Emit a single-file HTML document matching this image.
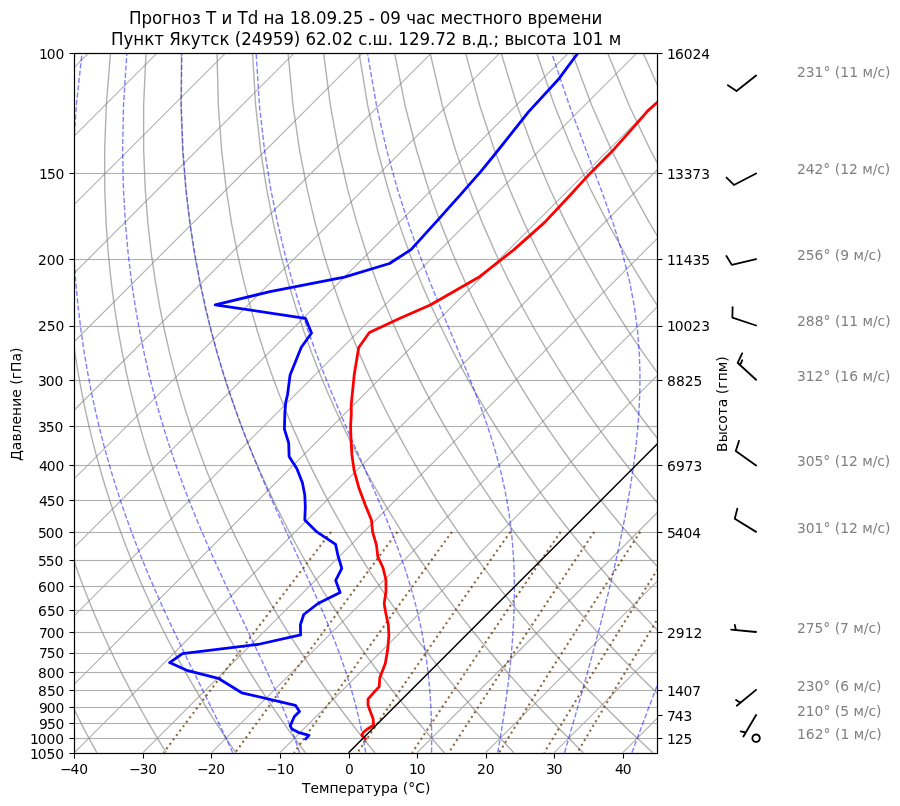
<!DOCTYPE html>
<html lang="ru"><head><meta charset="utf-8"><title>Прогноз T и Td — Якутск</title>
<style>
html,body{margin:0;padding:0;background:#fff}
body{width:900px;height:806px;overflow:hidden}
svg{display:block;font-family:"DejaVu Sans","Liberation Sans",sans-serif}
text{font-size:13.889px;fill:#000;white-space:pre}
.t{font-size:16.667px}
.g{fill:#808080}
</style></head><body>
<svg width="900" height="806" viewBox="0 0 900 806" role="img" aria-label="Аэрологическая диаграмма: прогноз T и Td, Якутск">
<rect width="900" height="806" fill="#fff"/>
<defs><clipPath id="c"><rect x="74.5" y="53.5" width="583.0" height="700.0"/></clipPath></defs>
<g clip-path="url(#c)" fill="none">
<path d="M-679.62 752.73L20.38 52.73M-611.07 752.73L88.93 52.73M-542.52 752.73L157.48 52.73M-473.98 752.73L226.02 52.73M-405.43 752.73L294.57 52.73M-336.88 752.73L363.12 52.73M-268.34 752.73L431.66 52.73M-199.79 752.73L500.21 52.73M-131.24 752.73L568.76 52.73M-62.69 752.73L637.31 52.73M5.85 752.73L705.85 52.73M74.40 752.73L774.40 52.73M142.95 752.73L842.95 52.73M211.49 752.73L911.49 52.73M280.04 752.73L980.04 52.73M348.59 752.73L1048.59 52.73M417.14 752.73L1117.14 52.73M485.68 752.73L1185.68 52.73M554.23 752.73L1254.23 52.73M622.78 752.73L1322.78 52.73" stroke="#b0b0b0" stroke-width="1.11"/>
<path d="M74.40 53.5H657.05M74.40 173.5H657.05M74.40 259.5H657.05M74.40 326.5H657.05M74.40 380.5H657.05M74.40 426.5H657.05M74.40 465.5H657.05M74.40 500.5H657.05M74.40 532.5H657.05M74.40 560.5H657.05M74.40 586.5H657.05M74.40 610.5H657.05M74.40 632.5H657.05M74.40 653.5H657.05M74.40 672.5H657.05M74.40 690.5H657.05M74.40 707.5H657.05M74.40 723.5H657.05M74.40 738.5H657.05M74.40 753.5H657.05" stroke="#b0b0b0" stroke-opacity="0.06" stroke-width="3"/>
<path d="M74.40 53.5H657.05M74.40 173.5H657.05M74.40 259.5H657.05M74.40 326.5H657.05M74.40 380.5H657.05M74.40 426.5H657.05M74.40 465.5H657.05M74.40 500.5H657.05M74.40 532.5H657.05M74.40 560.5H657.05M74.40 586.5H657.05M74.40 610.5H657.05M74.40 632.5H657.05M74.40 653.5H657.05M74.40 672.5H657.05M74.40 690.5H657.05M74.40 707.5H657.05M74.40 723.5H657.05M74.40 738.5H657.05M74.40 753.5H657.05" stroke="#b0b0b0" stroke-width="1.11"/>
<path d="M96.83 752.73L93.78 747.18L90.71 741.53L87.63 735.77L84.54 729.89L81.43 723.89L78.32 717.77L75.20 711.53L72.07 705.15L68.93 698.63L65.79 691.96L62.63 685.14L59.47 678.16L56.31 671.02L53.14 663.69L49.96 656.19L46.79 648.48L43.61 640.58L40.43 632.46L37.26 624.11L34.09 615.52L30.92 606.67L27.77 597.56L24.63 588.15L21.50 578.44L18.39 568.40L15.31 558.01L12.26 547.25L9.24 536.08L6.26 524.48L3.34 512.40L0.48 499.82L-2.32 486.67L-5.02 472.93L-7.63 458.51L-10.12 443.37L-12.47 427.41L-14.64 410.54L-16.62 392.67L-18.35 373.65L-19.78 353.33L-20.85 331.52L-21.47 307.99L-21.54 282.44L-20.91 254.49L-19.36 223.63L-16.64 189.21L-12.31 150.28L-5.77 105.48L4.00 52.73M166.34 752.73L162.92 747.18L159.47 741.53L156.01 735.77L152.54 729.89L149.05 723.89L145.54 717.77L142.02 711.53L138.48 705.15L134.93 698.63L131.36 691.96L127.78 685.14L124.18 678.16L120.57 671.02L116.95 663.69L113.32 656.19L109.68 648.48L106.03 640.58L102.36 632.46L98.69 624.11L95.02 615.52L91.34 606.67L87.66 597.56L83.98 588.15L80.30 578.44L76.63 568.40L72.97 558.01L69.33 547.25L65.70 536.08L62.10 524.48L58.53 512.40L55.01 499.82L51.53 486.67L48.12 472.93L44.78 458.51L41.53 443.37L38.40 427.41L35.41 410.54L32.58 392.67L29.96 373.65L27.60 353.33L25.55 331.52L23.89 307.99L22.72 282.44L22.18 254.49L22.47 223.63L23.84 189.21L26.68 150.28L31.58 105.48L39.50 52.73M235.85 752.73L232.06 747.18L228.24 741.53L224.40 735.77L220.54 729.89L216.66 723.89L212.76 717.77L208.83 711.53L204.89 705.15L200.92 698.63L196.93 691.96L192.92 685.14L188.89 678.16L184.84 671.02L180.77 663.69L176.68 656.19L172.57 648.48L168.44 640.58L164.29 632.46L160.13 624.11L155.95 615.52L151.76 606.67L147.55 597.56L143.33 588.15L139.10 578.44L134.87 568.40L130.63 558.01L126.39 547.25L122.16 536.08L117.93 524.48L113.72 512.40L109.53 499.82L105.37 486.67L101.26 472.93L97.19 458.51L93.19 443.37L89.27 427.41L85.46 410.54L81.78 392.67L78.27 373.65L74.98 353.33L71.94 331.52L69.25 307.99L66.98 282.44L65.27 254.49L64.30 223.63L64.31 189.21L65.66 150.28L68.93 105.48L75.00 52.73M305.36 752.73L301.20 747.18L297.00 741.53L292.79 735.77L288.54 729.89L284.27 723.89L279.97 717.77L275.65 711.53L271.29 705.15L266.91 698.63L262.50 691.96L258.07 685.14L253.60 678.16L249.11 671.02L244.59 663.69L240.04 656.19L235.46 648.48L230.86 640.58L226.23 632.46L221.57 624.11L216.88 615.52L212.18 606.67L207.44 597.56L202.69 588.15L197.91 578.44L193.11 568.40L188.29 558.01L183.46 547.25L178.62 536.08L173.77 524.48L168.91 512.40L164.06 499.82L159.22 486.67L154.39 472.93L149.60 458.51L144.84 443.37L140.14 427.41L135.51 410.54L130.98 392.67L126.58 373.65L122.35 353.33L118.34 331.52L114.61 307.99L111.24 282.44L108.36 254.49L106.13 223.63L104.78 189.21L104.65 150.28L106.27 105.48L110.51 52.73M374.87 752.73L370.34 747.18L365.77 741.53L361.17 735.77L356.54 729.89L351.88 723.89L347.19 717.77L342.46 711.53L337.70 705.15L332.90 698.63L328.07 691.96L323.21 685.14L318.31 678.16L313.37 671.02L308.40 663.69L303.40 656.19L298.35 648.48L293.27 640.58L288.16 632.46L283.01 624.11L277.82 615.52L272.59 606.67L267.33 597.56L262.04 588.15L256.71 578.44L251.35 568.40L245.95 558.01L240.53 547.25L235.08 536.08L229.60 524.48L224.11 512.40L218.59 499.82L213.07 486.67L207.53 472.93L202.01 458.51L196.49 443.37L191.01 427.41L185.56 410.54L180.18 392.67L174.89 373.65L169.73 353.33L164.73 331.52L159.97 307.99L155.50 282.44L151.45 254.49L147.96 223.63L145.25 189.21L143.64 150.28L143.62 105.48L146.01 52.73M444.38 752.73L439.48 747.18L434.54 741.53L429.56 735.77L424.55 729.89L419.49 723.89L414.40 717.77L409.27 711.53L404.10 705.15L398.90 698.63L393.64 691.96L388.35 685.14L383.02 678.16L377.64 671.02L372.22 663.69L366.75 656.19L361.24 648.48L355.69 640.58L350.09 632.46L344.44 624.11L338.75 615.52L333.01 606.67L327.22 597.56L321.39 588.15L315.51 578.44L309.59 568.40L303.61 558.01L297.60 547.25L291.54 536.08L285.44 524.48L279.30 512.40L273.12 499.82L266.91 486.67L260.67 472.93L254.42 458.51L248.15 443.37L241.87 427.41L235.61 410.54L229.38 392.67L223.20 373.65L217.11 353.33L211.13 331.52L205.32 307.99L199.76 282.44L194.54 254.49L189.80 223.63L185.73 189.21L182.63 150.28L180.97 105.48L181.51 52.73M513.89 752.73L508.62 747.18L503.30 741.53L497.95 735.77L492.55 729.89L487.11 723.89L481.62 717.77L476.09 711.53L470.51 705.15L464.89 698.63L459.22 691.96L453.50 685.14L447.73 678.16L441.91 671.02L436.04 663.69L430.11 656.19L424.14 648.48L418.11 640.58L412.02 632.46L405.88 624.11L399.68 615.52L393.43 606.67L387.12 597.56L380.74 588.15L374.31 578.44L367.83 568.40L361.28 558.01L354.67 547.25L348.00 536.08L341.27 524.48L334.49 512.40L327.65 499.82L320.76 486.67L313.81 472.93L306.83 458.51L299.80 443.37L292.74 427.41L285.67 410.54L278.58 392.67L271.51 373.65L264.48 353.33L257.53 331.52L250.68 307.99L244.02 282.44L237.63 254.49L231.63 223.63L226.20 189.21L221.62 150.28L218.32 105.48L217.02 52.73M583.40 752.73L577.76 747.18L572.07 741.53L566.33 735.77L560.55 729.89L554.72 723.89L548.84 717.77L542.90 711.53L536.92 705.15L530.88 698.63L524.79 691.96L518.64 685.14L512.43 678.16L506.17 671.02L499.85 663.69L493.47 656.19L487.03 648.48L480.52 640.58L473.95 632.46L467.32 624.11L460.62 615.52L453.85 606.67L447.01 597.56L440.10 588.15L433.12 578.44L426.06 568.40L418.94 558.01L411.74 547.25L404.46 536.08L397.11 524.48L389.68 512.40L382.18 499.82L374.60 486.67L366.95 472.93L359.24 458.51L351.45 443.37L343.61 427.41L335.72 410.54L327.78 392.67L319.82 373.65L311.86 353.33L303.92 331.52L296.04 307.99L288.28 282.44L280.72 254.49L273.46 223.63L266.67 189.21L260.61 150.28L255.66 105.48L252.52 52.73M652.91 752.73L646.90 747.18L640.83 741.53L634.72 735.77L628.55 729.89L622.33 723.89L616.05 717.77L609.72 711.53L603.32 705.15L596.87 698.63L590.36 691.96L583.78 685.14L577.14 678.16L570.44 671.02L563.67 663.69L556.83 656.19L549.92 648.48L542.94 640.58L535.88 632.46L528.75 624.11L521.55 615.52L514.26 606.67L506.90 597.56L499.45 588.15L491.92 578.44L484.30 568.40L476.60 558.01L468.80 547.25L460.92 536.08L452.94 524.48L444.87 512.40L436.71 499.82L428.45 486.67L420.09 472.93L411.64 458.51L403.11 443.37L394.48 427.41L385.77 410.54L376.98 392.67L368.13 373.65L359.24 353.33L350.32 331.52L341.40 307.99L332.55 282.44L323.81 254.49L315.29 223.63L307.15 189.21L299.59 150.28L293.01 105.48L288.03 52.73M722.42 752.73L716.04 747.18L709.60 741.53L703.11 735.77L696.55 729.89L689.94 723.89L683.27 717.77L676.53 711.53L669.73 705.15L662.86 698.63L655.93 691.96L648.93 685.14L641.85 678.16L634.71 671.02L627.48 663.69L620.19 656.19L612.81 648.48L605.35 640.58L597.82 632.46L590.19 624.11L582.48 615.52L574.68 606.67L566.79 597.56L558.80 588.15L550.72 578.44L542.54 568.40L534.26 558.01L525.87 547.25L517.38 536.08L508.78 524.48L500.06 512.40L491.23 499.82L482.29 486.67L473.23 472.93L464.05 458.51L454.76 443.37L445.35 427.41L435.82 410.54L426.18 392.67L416.44 373.65L406.61 353.33L396.71 331.52L386.76 307.99L376.81 282.44L366.90 254.49L357.12 223.63L347.62 189.21L338.58 150.28L330.36 105.48L323.53 52.73M791.93 752.73L785.18 747.18L778.37 741.53L771.49 735.77L764.56 729.89L757.55 723.89L750.48 717.77L743.35 711.53L736.14 705.15L728.86 698.63L721.50 691.96L714.07 685.14L706.56 678.16L698.97 671.02L691.30 663.69L683.54 656.19L675.70 648.48L667.77 640.58L659.75 632.46L651.63 624.11L643.41 615.52L635.10 606.67L626.68 597.56L618.16 588.15L609.53 578.44L600.78 568.40L591.92 558.01L582.94 547.25L573.84 536.08L564.61 524.48L555.25 512.40L545.76 499.82L536.14 486.67L526.37 472.93L516.46 458.51L506.41 443.37L496.21 427.41L485.87 410.54L475.38 392.67L464.75 373.65L453.99 353.33L443.11 331.52L432.12 307.99L421.07 282.44L409.99 254.49L398.96 223.63L388.09 189.21L377.57 150.28L367.71 105.48L359.03 52.73M861.44 752.73L854.32 747.18L847.13 741.53L839.88 735.77L832.56 729.89L825.17 723.89L817.70 717.77L810.16 711.53L802.54 705.15L794.85 698.63L787.07 691.96L779.21 685.14L771.27 678.16L763.24 671.02L755.12 663.69L746.90 656.19L738.59 648.48L730.19 640.58L721.68 632.46L713.07 624.11L704.35 615.52L695.52 606.67L686.57 597.56L677.51 588.15L668.33 578.44L659.02 568.40L649.58 558.01L640.01 547.25L630.30 536.08L620.45 524.48L610.44 512.40L600.29 499.82L589.98 486.67L579.51 472.93L568.87 458.51L558.06 443.37L547.08 427.41L535.92 410.54L524.58 392.67L513.06 373.65L501.37 353.33L489.50 331.52L477.48 307.99L465.33 282.44L453.08 254.49L440.79 223.63L428.56 189.21L416.56 150.28L405.06 105.48L394.54 52.73M930.95 752.73L923.46 747.18L915.90 741.53L908.27 735.77L900.56 729.89L892.78 723.89L884.92 717.77L876.97 711.53L868.95 705.15L860.84 698.63L852.64 691.96L844.36 685.14L835.98 678.16L827.50 671.02L818.93 663.69L810.26 656.19L801.49 648.48L792.60 640.58L783.61 632.46L774.50 624.11L765.28 615.52L755.93 606.67L746.46 597.56L736.86 588.15L727.13 578.44L717.26 568.40L707.24 558.01L697.08 547.25L686.76 536.08L676.28 524.48L665.64 512.40L654.82 499.82L643.83 486.67L632.65 472.93L621.28 458.51L609.72 443.37L597.95 427.41L585.97 410.54L573.78 392.67L561.37 373.65L548.75 353.33L535.90 331.52L522.84 307.99L509.59 282.44L496.17 254.49L482.62 223.63L469.04 189.21L455.55 150.28L442.40 105.48L430.04 52.73M1000.46 752.73L992.60 747.18L984.66 741.53L976.65 735.77L968.56 729.89L960.39 723.89L952.13 717.77L943.79 711.53L935.36 705.15L926.83 698.63L918.21 691.96L909.50 685.14L900.69 678.16L891.77 671.02L882.75 663.69L873.62 656.19L864.38 648.48L855.02 640.58L845.54 632.46L835.94 624.11L826.21 615.52L816.35 606.67L806.36 597.56L796.22 588.15L785.93 578.44L775.50 568.40L764.90 558.01L754.15 547.25L743.22 536.08L732.11 524.48L720.83 512.40L709.35 499.82L697.67 486.67L685.79 472.93L673.69 458.51L661.37 443.37L648.82 427.41L636.02 410.54L622.98 392.67L609.68 373.65L596.12 353.33L582.30 331.52L568.20 307.99L553.85 282.44L539.26 254.49L524.45 223.63L509.51 189.21L494.54 150.28L479.75 105.48L465.54 52.73M1069.96 752.73L1061.74 747.18L1053.43 741.53L1045.04 735.77L1036.56 729.89L1028.00 723.89L1019.35 717.77L1010.60 711.53L1001.76 705.15L992.82 698.63L983.79 691.96L974.64 685.14L965.40 678.16L956.04 671.02L946.57 663.69L936.98 656.19L927.27 648.48L917.44 640.58L907.47 632.46L897.38 624.11L887.15 615.52L876.77 606.67L866.25 597.56L855.57 588.15L844.74 578.44L833.74 568.40L822.56 558.01L811.21 547.25L799.68 536.08L787.95 524.48L776.02 512.40L763.88 499.82L751.52 486.67L738.93 472.93L726.10 458.51L713.02 443.37L699.69 427.41L686.08 410.54L672.18 392.67L657.99 373.65L643.50 353.33L628.69 331.52L613.56 307.99L598.11 282.44L582.34 254.49L566.29 223.63L549.98 189.21L533.53 150.28L517.10 105.48L501.05 52.73M1139.47 752.73L1130.88 747.18L1122.20 741.53L1113.43 735.77L1104.57 729.89L1095.61 723.89L1086.56 717.77L1077.42 711.53L1068.17 705.15L1058.82 698.63L1049.36 691.96L1039.79 685.14L1030.10 678.16L1020.30 671.02L1010.38 663.69L1000.34 656.19L990.16 648.48L979.85 640.58L969.40 632.46L958.82 624.11L948.08 615.52L937.19 606.67L926.14 597.56L914.92 588.15L903.54 578.44L891.97 568.40L880.23 558.01L868.28 547.25L856.14 536.08L843.78 524.48L831.21 512.40L818.41 499.82L805.36 486.67L792.07 472.93L778.51 458.51L764.68 443.37L750.55 427.41L736.13 410.54L721.38 392.67L706.30 373.65L690.88 353.33L675.09 331.52L658.92 307.99L642.37 282.44L625.43 254.49L608.12 223.63L590.45 189.21L572.51 150.28L554.45 105.48L536.55 52.73M1208.98 752.73L1200.02 747.18L1190.96 741.53L1181.81 735.77L1172.57 729.89L1163.23 723.89L1153.78 717.77L1144.23 711.53L1134.58 705.15L1124.81 698.63L1114.93 691.96L1104.93 685.14L1094.81 678.16L1084.57 671.02L1074.20 663.69L1063.69 656.19L1053.05 648.48L1042.27 640.58L1031.34 632.46L1020.25 624.11L1009.01 615.52L997.61 606.67L986.03 597.56L974.28 588.15L962.34 578.44L950.21 568.40L937.89 558.01L925.35 547.25L912.60 536.08L899.62 524.48L886.40 512.40L872.94 499.82L859.21 486.67L845.21 472.93L830.92 458.51L816.33 443.37L801.42 427.41L786.18 410.54L770.58 392.67L754.61 373.65L738.25 353.33L721.48 331.52L704.28 307.99L686.63 282.44L668.52 254.49L649.95 223.63L630.93 189.21L611.50 150.28L591.79 105.48L572.06 52.73M1278.49 752.73L1269.16 747.18L1259.73 741.53L1250.20 735.77L1240.57 729.89L1230.84 723.89L1221.00 717.77L1211.05 711.53L1200.98 705.15L1190.80 698.63L1180.50 691.96L1170.07 685.14L1159.52 678.16L1148.84 671.02L1138.01 663.69L1127.05 656.19L1115.94 648.48L1104.68 640.58L1093.27 632.46L1081.69 624.11L1069.94 615.52L1058.02 606.67L1045.92 597.56L1033.63 588.15L1021.14 578.44L1008.45 568.40L995.55 558.01L982.42 547.25L969.06 536.08L955.45 524.48L941.59 512.40L927.46 499.82L913.05 486.67L898.35 472.93L883.33 458.51L867.98 443.37L852.29 427.41L836.23 410.54L819.78 392.67L802.92 373.65L785.63 353.33L767.88 331.52L749.64 307.99L730.89 282.44L711.61 254.49L691.78 223.63L671.40 189.21L650.49 150.28L629.14 105.48L607.56 52.73M1348.00 752.73L1338.30 747.18L1328.50 741.53L1318.59 735.77L1308.57 729.89L1298.45 723.89L1288.21 717.77L1277.86 711.53L1267.39 705.15L1256.79 698.63L1246.07 691.96L1235.22 685.14L1224.23 678.16L1213.10 671.02L1201.83 663.69L1190.41 656.19L1178.83 648.48L1167.10 640.58L1155.20 632.46L1143.13 624.11L1130.88 615.52L1118.44 606.67L1105.81 597.56L1092.98 588.15L1079.95 578.44L1066.69 568.40L1053.21 558.01L1039.49 547.25L1025.52 536.08L1011.29 524.48L996.78 512.40L981.99 499.82L966.90 486.67L951.49 472.93L935.74 458.51L919.64 443.37L903.16 427.41L886.28 410.54L868.98 392.67L851.23 373.65L833.01 353.33L814.27 331.52L795.00 307.99L775.15 282.44L754.70 254.49L733.61 223.63L711.87 189.21L689.48 150.28L666.49 105.48L643.06 52.73M1417.51 752.73L1407.44 747.18L1397.26 741.53L1386.97 735.77L1376.58 729.89L1366.06 723.89L1355.43 717.77L1344.67 711.53L1333.79 705.15L1322.78 698.63L1311.64 691.96L1300.36 685.14L1288.94 678.16L1277.37 671.02L1265.65 663.69L1253.77 656.19L1241.73 648.48L1229.52 640.58L1217.13 632.46L1204.56 624.11L1191.81 615.52L1178.86 606.67L1165.70 597.56L1152.34 588.15L1138.75 578.44L1124.93 568.40L1110.87 558.01L1096.56 547.25L1081.98 536.08L1067.12 524.48L1051.98 512.40L1036.52 499.82L1020.74 486.67L1004.63 472.93L988.15 458.51L971.29 443.37L954.03 427.41L936.33 410.54L918.18 392.67L899.54 373.65L880.39 353.33L860.67 331.52L840.36 307.99L819.42 282.44L797.79 254.49L775.45 223.63L752.34 189.21L728.47 150.28L703.84 105.48L678.57 52.73M1487.02 752.73L1476.58 747.18L1466.03 741.53L1455.36 735.77L1444.58 729.89L1433.67 723.89L1422.64 717.77L1411.49 711.53L1400.20 705.15L1388.78 698.63L1377.21 691.96L1365.50 685.14L1353.65 678.16L1341.63 671.02L1329.46 663.69L1317.13 656.19L1304.62 648.48L1291.93 640.58L1279.06 632.46L1266.00 624.11L1252.74 615.52L1239.28 606.67L1225.60 597.56L1211.69 588.15L1197.55 578.44L1183.17 568.40L1168.53 558.01L1153.62 547.25L1138.44 536.08L1122.96 524.48L1107.17 512.40L1091.05 499.82L1074.59 486.67L1057.77 472.93L1040.56 458.51L1022.94 443.37L1004.89 427.41L986.38 410.54L967.38 392.67L947.85 373.65L927.76 353.33L907.07 331.52L885.72 307.99L863.68 282.44L840.88 254.49L817.28 223.63L792.82 189.21L767.46 150.28L741.18 105.48L714.07 52.73M1556.53 752.73L1545.72 747.18L1534.79 741.53L1523.75 735.77L1512.58 729.89L1501.28 723.89L1489.86 717.77L1478.30 711.53L1466.61 705.15L1454.77 698.63L1442.78 691.96L1430.65 685.14L1418.36 678.16L1405.90 671.02L1393.28 663.69L1380.48 656.19L1367.51 648.48L1354.35 640.58L1340.99 632.46L1327.44 624.11L1313.68 615.52L1299.69 606.67L1285.49 597.56L1271.04 588.15L1256.35 578.44L1241.41 568.40L1226.19 558.01L1210.69 547.25L1194.90 536.08L1178.79 524.48L1162.36 512.40L1145.58 499.82L1128.43 486.67L1110.91 472.93L1092.97 458.51L1074.60 443.37L1055.76 427.41L1036.43 410.54L1016.58 392.67L996.16 373.65L975.14 353.33L953.46 331.52L931.08 307.99L907.94 282.44L883.97 254.49L859.11 223.63L833.29 189.21L806.44 150.28L778.53 105.48L749.58 52.73M1626.04 752.73L1614.86 747.18L1603.56 741.53L1592.13 735.77L1580.58 729.89L1568.90 723.89L1557.08 717.77L1545.12 711.53L1533.01 705.15L1520.76 698.63L1508.36 691.96L1495.79 685.14L1483.06 678.16L1470.17 671.02L1457.10 663.69L1443.84 656.19L1430.40 648.48L1416.76 640.58L1402.93 632.46L1388.88 624.11L1374.61 615.52L1360.11 606.67L1345.38 597.56L1330.40 588.15L1315.16 578.44L1299.65 568.40L1283.85 558.01L1267.76 547.25L1251.36 536.08L1234.63 524.48L1217.55 512.40L1200.11 499.82L1182.28 486.67L1164.05 472.93L1145.38 458.51L1126.25 443.37L1106.63 427.41L1086.49 410.54L1065.78 392.67L1044.47 373.65L1022.52 353.33L999.86 331.52L976.44 307.99L952.20 282.44L927.06 254.49L900.94 223.63L873.76 189.21L845.43 150.28L815.88 105.48L785.08 52.73M1695.55 752.73L1684.00 747.18L1672.33 741.53L1660.52 735.77L1648.58 729.89L1636.51 723.89L1624.29 717.77L1611.93 711.53L1599.42 705.15L1586.75 698.63L1573.93 691.96L1560.94 685.14L1547.77 678.16L1534.43 671.02L1520.91 663.69L1507.20 656.19L1493.29 648.48L1479.18 640.58L1464.86 632.46L1450.31 624.11L1435.54 615.52L1420.53 606.67L1405.27 597.56L1389.75 588.15L1373.96 578.44L1357.89 568.40L1341.51 558.01L1324.83 547.25L1307.82 536.08L1290.46 524.48L1272.74 512.40L1254.64 499.82L1236.13 486.67L1217.18 472.93L1197.79 458.51L1177.90 443.37L1157.50 427.41L1136.54 410.54L1114.98 392.67L1092.78 373.65L1069.89 353.33L1046.25 331.52L1021.80 307.99L996.46 282.44L970.15 254.49L942.77 223.63L914.24 189.21L884.42 150.28L853.23 105.48L820.58 52.73M1765.06 752.73L1753.14 747.18L1741.09 741.53L1728.91 735.77L1716.59 729.89L1704.12 723.89L1691.51 717.77L1678.75 711.53L1665.83 705.15L1652.75 698.63L1639.50 691.96L1626.08 685.14L1612.48 678.16L1598.70 671.02L1584.73 663.69L1570.56 656.19L1556.18 648.48L1541.60 640.58L1526.79 632.46L1511.75 624.11L1496.47 615.52L1480.95 606.67L1465.16 597.56L1449.10 588.15L1432.76 578.44L1416.12 568.40L1399.17 558.01L1381.90 547.25L1364.28 536.08L1346.30 524.48L1327.93 512.40L1309.16 499.82L1289.97 486.67L1270.32 472.93L1250.20 458.51L1229.55 443.37L1208.36 427.41L1186.59 410.54L1164.18 392.67L1141.09 373.65L1117.27 353.33L1092.65 331.52L1067.16 307.99L1040.72 282.44L1013.24 254.49L984.61 223.63L954.71 189.21L923.41 150.28L890.57 105.48L856.09 52.73M1834.57 752.73L1822.28 747.18L1809.86 741.53L1797.29 735.77L1784.59 729.89L1771.73 723.89L1758.73 717.77L1745.56 711.53L1732.23 705.15L1718.74 698.63L1705.07 691.96L1691.22 685.14L1677.19 678.16L1662.97 671.02L1648.54 663.69L1633.92 656.19L1619.08 648.48L1604.01 640.58L1588.72 632.46L1573.19 624.11L1557.41 615.52L1541.37 606.67L1525.05 597.56L1508.46 588.15L1491.57 578.44L1474.36 568.40L1456.84 558.01L1438.97 547.25L1420.74 536.08L1402.13 524.48L1383.12 512.40L1363.69 499.82L1343.82 486.67L1323.46 472.93L1302.61 458.51L1281.21 443.37L1259.23 427.41L1236.64 410.54L1213.38 392.67L1189.40 373.65L1164.65 353.33L1139.05 331.52L1112.52 307.99L1084.98 282.44L1056.33 254.49L1026.44 223.63L995.18 189.21L962.40 150.28L927.92 105.48L891.59 52.73M1904.08 752.73L1891.42 747.18L1878.62 741.53L1865.68 735.77L1852.59 729.89L1839.34 723.89L1825.94 717.77L1812.37 711.53L1798.64 705.15L1784.73 698.63L1770.64 691.96L1756.37 685.14L1741.90 678.16L1727.23 671.02L1712.36 663.69L1697.27 656.19L1681.97 648.48L1666.43 640.58L1650.65 632.46L1634.63 624.11L1618.34 615.52L1601.78 606.67L1584.94 597.56L1567.81 588.15L1550.37 578.44L1532.60 568.40L1514.50 558.01L1496.03 547.25L1477.20 536.08L1457.96 524.48L1438.31 512.40L1418.22 499.82L1397.66 486.67L1376.60 472.93L1355.01 458.51L1332.86 443.37L1310.10 427.41L1286.69 410.54L1262.58 392.67L1237.71 373.65L1212.02 353.33L1185.44 331.52L1157.88 307.99L1129.24 282.44L1099.42 254.49L1068.27 223.63L1035.65 189.21L1001.39 150.28L965.27 105.48L927.09 52.73M1973.59 752.73L1960.56 747.18L1947.39 741.53L1934.07 735.77L1920.59 729.89L1906.96 723.89L1893.16 717.77L1879.19 711.53L1865.05 705.15L1850.72 698.63L1836.21 691.96L1821.51 685.14L1806.61 678.16L1791.50 671.02L1776.18 663.69L1760.63 656.19L1744.86 648.48L1728.85 640.58L1712.58 632.46L1696.06 624.11L1679.27 615.52L1662.20 606.67L1644.84 597.56L1627.16 588.15L1609.17 578.44L1590.84 568.40L1572.16 558.01L1553.10 547.25L1533.66 536.08L1513.80 524.48L1493.51 512.40L1472.75 499.82L1451.51 486.67L1429.74 472.93L1407.42 458.51L1384.51 443.37L1360.97 427.41L1336.74 410.54L1311.78 392.67L1286.02 373.65L1259.40 353.33L1231.84 331.52L1203.24 307.99L1173.50 282.44L1142.51 254.49L1110.10 223.63L1076.13 189.21L1040.37 150.28L1002.62 105.48L962.60 52.73M2043.10 752.73L2029.70 747.18L2016.16 741.53L2002.45 735.77L1988.59 729.89L1974.57 723.89L1960.37 717.77L1946.00 711.53L1931.45 705.15L1916.71 698.63L1901.78 691.96L1886.65 685.14L1871.32 678.16L1855.77 671.02L1839.99 663.69L1823.99 656.19L1807.75 648.48L1791.26 640.58L1774.51 632.46L1757.50 624.11L1740.21 615.52L1722.62 606.67L1704.73 597.56L1686.52 588.15L1667.97 578.44L1649.08 568.40L1629.82 558.01L1610.17 547.25L1590.12 536.08L1569.63 524.48L1548.70 512.40L1527.28 499.82L1505.35 486.67L1482.88 472.93L1459.83 458.51L1436.17 443.37L1411.84 427.41L1386.79 410.54L1360.98 392.67L1334.33 373.65L1306.78 353.33L1278.23 331.52L1248.60 307.99L1217.76 282.44L1185.59 254.49L1151.93 223.63L1116.60 189.21L1079.36 150.28L1039.96 105.48L998.10 52.73" stroke="#808080" stroke-opacity="0.62" stroke-width="1.39" stroke-linejoin="round"/>
<path d="M232.71 752.73L230.18 747.18L227.57 741.53L224.87 735.77L222.09 729.89L219.22 723.89L216.27 717.77L213.23 711.53L210.11 705.15L206.90 698.63L203.60 691.96L200.23 685.14L196.78 678.16L193.24 671.02L189.64 663.69L185.96 656.19L182.20 648.48L178.39 640.58L174.50 632.46L170.56 624.11L166.56 615.52L162.51 606.67L158.41 597.56L154.27 588.15L150.09 578.44L145.88 568.40L141.63 558.01L137.37 547.25L133.09 536.08L128.80 524.48L124.51 512.40L120.23 499.82L115.96 486.67L111.73 472.93L107.53 458.51L103.39 443.37L99.33 427.41L95.36 410.54L91.52 392.67L87.84 373.65L84.36 353.33L81.13 331.52L78.23 307.99L75.75 282.44L73.81 254.49L72.59 223.63L72.33 189.21L73.39 150.28L76.32 105.48L82.04 52.73M299.59 752.73L297.72 747.18L295.75 741.53L293.68 735.77L291.51 729.89L289.22 723.89L286.83 717.77L284.32 711.53L281.69 705.15L278.94 698.63L276.07 691.96L273.07 685.14L269.94 678.16L266.69 671.02L263.31 663.69L259.80 656.19L256.16 648.48L252.39 640.58L248.51 632.46L244.50 624.11L240.37 615.52L236.12 606.67L231.77 597.56L227.32 588.15L222.77 578.44L218.12 568.40L213.39 558.01L208.59 547.25L203.72 536.08L198.79 524.48L193.81 512.40L188.79 499.82L183.74 486.67L178.67 472.93L173.60 458.51L168.55 443.37L163.52 427.41L158.54 410.54L153.64 392.67L148.84 373.65L144.19 353.33L139.72 331.52L135.51 307.99L131.65 282.44L128.23 254.49L125.42 223.63L123.44 189.21L122.63 150.28L123.49 105.48L126.88 52.73M365.69 752.73L364.76 747.18L363.74 741.53L362.64 735.77L361.45 729.89L360.15 723.89L358.76 717.77L357.25 711.53L355.63 705.15L353.89 698.63L352.01 691.96L349.99 685.14L347.82 678.16L345.50 671.02L343.02 663.69L340.37 656.19L337.54 648.48L334.53 640.58L331.32 632.46L327.92 624.11L324.33 615.52L320.52 606.67L316.52 597.56L312.31 588.15L307.89 578.44L303.27 568.40L298.46 558.01L293.46 547.25L288.28 536.08L282.93 524.48L277.43 512.40L271.78 499.82L266.00 486.67L260.11 472.93L254.12 458.51L248.06 443.37L241.94 427.41L235.80 410.54L229.65 392.67L223.52 373.65L217.45 353.33L211.49 331.52L205.69 307.99L200.13 282.44L194.90 254.49L190.15 223.63L186.07 189.21L182.96 150.28L181.29 105.48L181.82 52.73M431.55 752.73L431.63 747.18L431.66 741.53L431.65 735.77L431.59 729.89L431.47 723.89L431.30 717.77L431.06 711.53L430.75 705.15L430.36 698.63L429.89 691.96L429.32 685.14L428.65 678.16L427.87 671.02L426.96 663.69L425.92 656.19L424.74 648.48L423.39 640.58L421.87 632.46L420.16 624.11L418.24 615.52L416.10 606.67L413.71 597.56L411.06 588.15L408.13 578.44L404.89 568.40L401.34 558.01L397.45 547.25L393.21 536.08L388.60 524.48L383.63 512.40L378.29 499.82L372.58 486.67L366.51 472.93L360.11 458.51L353.39 443.37L346.37 427.41L339.11 410.54L331.63 392.67L323.97 373.65L316.19 353.33L308.34 331.52L300.48 307.99L292.69 282.44L285.05 254.49L277.68 223.63L270.77 189.21L264.55 150.28L259.45 105.48L256.12 52.73M497.72 752.73L498.69 747.18L499.65 741.53L500.61 735.77L501.57 729.89L502.51 723.89L503.45 717.77L504.38 711.53L505.30 705.15L506.20 698.63L507.09 691.96L507.95 685.14L508.78 678.16L509.59 671.02L510.36 663.69L511.09 656.19L511.77 648.48L512.39 640.58L512.95 632.46L513.44 624.11L513.84 615.52L514.14 606.67L514.33 597.56L514.38 588.15L514.28 578.44L514.00 568.40L513.52 558.01L512.80 547.25L511.81 536.08L510.51 524.48L508.84 512.40L506.76 499.82L504.20 486.67L501.11 472.93L497.41 458.51L493.04 443.37L487.94 427.41L482.04 410.54L475.32 392.67L467.77 373.65L459.41 353.33L450.28 331.52L440.50 307.99L430.17 282.44L419.44 254.49L408.48 223.63L397.49 189.21L386.72 150.28L376.50 105.48L367.40 52.73M564.50 752.73L566.13 747.18L567.78 741.53L569.47 735.77L571.17 729.89L572.91 723.89L574.68 717.77L576.47 711.53L578.30 705.15L580.15 698.63L582.04 691.96L583.96 685.14L585.90 678.16L587.89 671.02L589.90 663.69L591.95 656.19L594.03 648.48L596.14 640.58L598.29 632.46L600.47 624.11L602.68 615.52L604.92 606.67L607.18 597.56L609.48 588.15L611.80 578.44L614.14 568.40L616.49 558.01L618.85 547.25L621.21 536.08L623.56 524.48L625.88 512.40L628.16 499.82L630.37 486.67L632.49 472.93L634.47 458.51L636.27 443.37L637.82 427.41L639.03 410.54L639.80 392.67L639.96 373.65L639.33 353.33L637.65 331.52L634.60 307.99L629.79 282.44L622.79 254.49L613.25 223.63L600.99 189.21L586.18 150.28L569.41 105.48L551.58 52.73M631.89 752.73L633.95 747.18L636.06 741.53L638.21 735.77L640.41 729.89L642.66 723.89L644.95 717.77L647.29 711.53L649.69 705.15L652.15 698.63L654.66 691.96L657.23 685.14L659.87 678.16L662.57 671.02L665.34 663.69L668.18 656.19L671.10 648.48L674.10 640.58L677.18 632.46L680.35 624.11L683.61 615.52L686.97 606.67L690.43 597.56L694.00 588.15L697.69 578.44L701.49 568.40L705.43 558.01L709.50 547.25L713.72 536.08L718.09 524.48L722.62 512.40L727.33 499.82L732.23 486.67L737.33 472.93L742.64 458.51L748.18 443.37L753.97 427.41L760.02 410.54L766.35 392.67L772.98 373.65L779.91 353.33L787.16 331.52L794.73 307.99L802.60 282.44L810.71 254.49L818.92 223.63L826.98 189.21L834.34 150.28L839.84 105.48L841.10 52.73" stroke="#0000ff" stroke-opacity="0.5" stroke-width="1.39" stroke-dasharray="5.14 2.22"/>
<path d="M330.98 531.86L325.92 538.47L320.96 544.93L316.12 551.26L311.38 557.46L306.74 563.53L302.19 569.47L297.73 575.31L293.37 581.03L289.09 586.64L284.89 592.15L280.77 597.56L276.72 602.87L272.75 608.09L268.85 613.22L265.01 618.26L261.24 623.22L257.54 628.09L253.90 632.89L250.31 637.61L246.79 642.26L243.32 646.84L239.90 651.35L236.54 655.79L233.23 660.16L229.97 664.47L226.75 668.72L223.58 672.91L220.46 677.04L217.38 681.12L214.35 685.14L211.35 689.11L208.40 693.02L205.49 696.89L202.61 700.70L199.78 704.47L196.97 708.19L194.21 711.86L191.48 715.49L188.78 719.07L186.12 722.62L183.49 726.12L180.89 729.58L178.32 733.00L175.78 736.38L173.27 739.72L170.79 743.03L168.34 746.30L165.92 749.53L163.52 752.73M397.46 531.86L392.54 538.47L387.73 544.93L383.02 551.26L378.42 557.46L373.92 563.53L369.50 569.47L365.18 575.31L360.94 581.03L356.79 586.64L352.72 592.15L348.72 597.56L344.79 602.87L340.94 608.09L337.16 613.22L333.44 618.26L329.79 623.22L326.20 628.09L322.67 632.89L319.19 637.61L315.78 642.26L312.41 646.84L309.10 651.35L305.85 655.79L302.64 660.16L299.48 664.47L296.36 668.72L293.30 672.91L290.27 677.04L287.29 681.12L284.35 685.14L281.45 689.11L278.59 693.02L275.77 696.89L272.99 700.70L270.24 704.47L267.53 708.19L264.86 711.86L262.22 715.49L259.61 719.07L257.03 722.62L254.49 726.12L251.97 729.58L249.49 733.00L247.03 736.38L244.60 739.72L242.21 743.03L239.84 746.30L237.49 749.53L235.17 752.73M451.92 531.86L447.13 538.47L442.44 544.93L437.86 551.26L433.37 557.46L428.99 563.53L424.69 569.47L420.48 575.31L416.35 581.03L412.31 586.64L408.34 592.15L404.45 597.56L400.63 602.87L396.88 608.09L393.20 613.22L389.58 618.26L386.02 623.22L382.53 628.09L379.09 632.89L375.72 637.61L372.39 642.26L369.12 646.84L365.90 651.35L362.73 655.79L359.61 660.16L356.54 664.47L353.51 668.72L350.53 672.91L347.59 677.04L344.69 681.12L341.84 685.14L339.02 689.11L336.24 693.02L333.50 696.89L330.80 700.70L328.13 704.47L325.49 708.19L322.90 711.86L320.33 715.49L317.79 719.07L315.29 722.62L312.82 726.12L310.38 729.58L307.97 733.00L305.58 736.38L303.23 739.72L300.90 743.03L298.60 746.30L296.32 749.53L294.07 752.73M510.36 531.86L505.70 538.47L501.15 544.93L496.71 551.26L492.35 557.46L488.10 563.53L483.93 569.47L479.84 575.31L475.84 581.03L471.92 586.64L468.07 592.15L464.29 597.56L460.59 602.87L456.95 608.09L453.38 613.22L449.88 618.26L446.43 623.22L443.05 628.09L439.72 632.89L436.44 637.61L433.22 642.26L430.06 646.84L426.94 651.35L423.87 655.79L420.85 660.16L417.87 664.47L414.94 668.72L412.05 672.91L409.21 677.04L406.40 681.12L403.64 685.14L400.91 689.11L398.22 693.02L395.57 696.89L392.96 700.70L390.38 704.47L387.83 708.19L385.31 711.86L382.83 715.49L380.38 719.07L377.96 722.62L375.57 726.12L373.21 729.58L370.88 733.00L368.57 736.38L366.30 739.72L364.05 743.03L361.82 746.30L359.62 749.53L357.45 752.73M560.65 531.86L556.12 538.47L551.69 544.93L547.36 551.26L543.12 557.46L538.98 563.53L534.92 569.47L530.95 575.31L527.06 581.03L523.24 586.64L519.50 592.15L515.83 597.56L512.23 602.87L508.70 608.09L505.23 613.22L501.82 618.26L498.48 623.22L495.19 628.09L491.95 632.89L488.77 637.61L485.65 642.26L482.57 646.84L479.54 651.35L476.56 655.79L473.63 660.16L470.74 664.47L467.89 668.72L465.09 672.91L462.33 677.04L459.61 681.12L456.93 685.14L454.28 689.11L451.67 693.02L449.10 696.89L446.56 700.70L444.06 704.47L441.59 708.19L439.15 711.86L436.74 715.49L434.37 719.07L432.02 722.62L429.70 726.12L427.42 729.58L425.16 733.00L422.92 736.38L420.72 739.72L418.53 743.03L416.38 746.30L414.25 749.53L412.14 752.73M594.20 531.86L589.76 538.47L585.41 544.93L581.17 551.26L577.01 557.46L572.95 563.53L568.97 569.47L565.07 575.31L561.26 581.03L557.52 586.64L553.85 592.15L550.25 597.56L546.72 602.87L543.26 608.09L539.86 613.22L536.52 618.26L533.24 623.22L530.01 628.09L526.84 632.89L523.73 637.61L520.66 642.26L517.65 646.84L514.68 651.35L511.77 655.79L508.89 660.16L506.06 664.47L503.28 668.72L500.53 672.91L497.83 677.04L495.16 681.12L492.54 685.14L489.95 689.11L487.39 693.02L484.88 696.89L482.39 700.70L479.94 704.47L477.52 708.19L475.14 711.86L472.78 715.49L470.46 719.07L468.16 722.62L465.90 726.12L463.66 729.58L461.45 733.00L459.26 736.38L457.10 739.72L454.97 743.03L452.86 746.30L450.78 749.53L448.72 752.73M640.23 531.86L635.90 538.47L631.67 544.93L627.54 551.26L623.50 557.46L619.54 563.53L615.67 569.47L611.89 575.31L608.17 581.03L604.54 586.64L600.97 592.15L597.48 597.56L594.05 602.87L590.68 608.09L587.38 613.22L584.13 618.26L580.95 623.22L577.81 628.09L574.74 632.89L571.71 637.61L568.74 642.26L565.81 646.84L562.93 651.35L560.10 655.79L557.31 660.16L554.57 664.47L551.86 668.72L549.20 672.91L546.58 677.04L543.99 681.12L541.45 685.14L538.93 689.11L536.46 693.02L534.02 696.89L531.61 700.70L529.23 704.47L526.89 708.19L524.58 711.86L522.30 715.49L520.04 719.07L517.82 722.62L515.62 726.12L513.46 729.58L511.31 733.00L509.20 736.38L507.11 739.72L505.04 743.03L503.00 746.30L500.98 749.53L498.99 752.73M681.52 531.86L677.30 538.47L673.18 544.93L669.16 551.26L665.22 557.46L661.37 563.53L657.60 569.47L653.91 575.31L650.30 581.03L646.76 586.64L643.28 592.15L639.88 597.56L636.54 602.87L633.27 608.09L630.05 613.22L626.90 618.26L623.80 623.22L620.75 628.09L617.76 632.89L614.82 637.61L611.92 642.26L609.08 646.84L606.28 651.35L603.53 655.79L600.82 660.16L598.15 664.47L595.52 668.72L592.94 672.91L590.39 677.04L587.88 681.12L585.40 685.14L582.96 689.11L580.56 693.02L578.19 696.89L575.85 700.70L573.54 704.47L571.27 708.19L569.02 711.86L566.81 715.49L564.62 719.07L562.47 722.62L560.33 726.12L558.23 729.58L556.15 733.00L554.10 736.38L552.07 739.72L550.07 743.03L548.09 746.30L546.13 749.53L544.20 752.73M711.64 531.86L707.51 538.47L703.47 544.93L699.52 551.26L695.66 557.46L691.89 563.53L688.19 569.47L684.58 575.31L681.03 581.03L677.57 586.64L674.16 592.15L670.83 597.56L667.56 602.87L664.35 608.09L661.20 613.22L658.11 618.26L655.08 623.22L652.10 628.09L649.17 632.89L646.29 637.61L643.46 642.26L640.67 646.84L637.93 651.35L635.24 655.79L632.59 660.16L629.98 664.47L627.41 668.72L624.87 672.91L622.38 677.04L619.93 681.12L617.51 685.14L615.12 689.11L612.77 693.02L610.45 696.89L608.17 700.70L605.91 704.47L603.69 708.19L601.50 711.86L599.33 715.49L597.19 719.07L595.08 722.62L593.00 726.12L590.95 729.58L588.92 733.00L586.91 736.38L584.93 739.72L582.97 743.03L581.04 746.30L579.13 749.53L577.24 752.73" stroke="#70420f" stroke-opacity="0.8" stroke-width="2.08" stroke-dasharray="2.08 3.44"/>
<path d="M365.50 738.80L361.70 735.20L363.50 732.30L367.10 729.30L373.60 725.30L373.10 718.70L370.40 711.80L368.00 705.00L368.00 699.20L373.50 692.80L379.20 686.60L379.80 677.70L385.30 663.60L387.70 649.50L388.90 635.30L388.30 624.70L385.50 611.80L384.20 603.50L386.00 591.20L385.90 579.50L383.00 567.75L377.80 556.70L376.40 544.95L372.60 531.90L371.50 520.20L365.30 505.00L359.10 488.60L354.10 470.40L351.90 454.70L351.00 439.10L350.60 426.10L351.30 413.00L351.20 404.90L354.20 374.80L358.70 347.50L369.40 332.45L400.00 318.20L430.70 304.70L478.70 277.30L513.70 249.90L544.40 222.60L571.00 194.30L590.00 173.40L612.10 151.30L636.90 123.40L647.70 110.90L657.40 102.20L660.00 99.90" stroke="#ff0000" stroke-width="2.78" stroke-linejoin="round" stroke-linecap="square"/>
<path d="M305.80 738.90L309.00 735.40L298.20 732.30L292.00 729.10L290.20 725.90L294.40 716.50L299.50 711.40L295.45 705.30L241.74 692.80L218.20 678.30L187.80 670.70L169.60 662.55L182.55 653.70L257.80 644.50L300.60 634.90L300.40 624.70L303.75 614.50L318.00 603.50L340.10 592.40L335.70 580.40L341.80 568.40L337.90 555.40L335.60 544.40L316.90 531.90L304.80 519.90L305.30 507.00L304.80 495.10L302.40 482.80L296.90 468.70L289.10 456.40L288.70 443.00L284.40 429.10L284.90 412.30L285.70 402.30L287.50 395.00L290.10 374.90L301.30 347.20L311.55 333.00L305.40 318.30L215.20 304.80L270.00 291.70L344.40 277.20L389.50 263.50L411.00 249.60L438.20 219.60L460.75 194.40L480.50 171.80L494.30 155.00L528.50 111.90L559.20 78.45L577.60 53.50L580.00 50.30" stroke="#0000ff" stroke-width="2.78" stroke-linejoin="round" stroke-linecap="square"/>
<path d="M348.59 752.73L1048.59 52.73" stroke="#000" stroke-width="1.39"/>
</g>
<path d="M74.5 53.0V754.0M657.5 53.0V754.0M74.0 53.5H658.0M74.0 753.5H658.0" stroke="#000" stroke-opacity="0.1" stroke-width="3" fill="none"/>
<path d="M74.5 53.5h-5.0M74.5 173.5h-5.0M74.5 259.5h-5.0M74.5 326.5h-5.0M74.5 380.5h-5.0M74.5 426.5h-5.0M74.5 465.5h-5.0M74.5 500.5h-5.0M74.5 532.5h-5.0M74.5 560.5h-5.0M74.5 586.5h-5.0M74.5 610.5h-5.0M74.5 632.5h-5.0M74.5 653.5h-5.0M74.5 672.5h-5.0M74.5 690.5h-5.0M74.5 707.5h-5.0M74.5 723.5h-5.0M74.5 738.5h-5.0M74.5 753.5h-5.0M657.5 53.5h5.0M657.5 173.5h5.0M657.5 259.5h5.0M657.5 326.5h5.0M657.5 380.5h5.0M657.5 465.5h5.0M657.5 532.5h5.0M657.5 632.5h5.0M657.5 690.5h5.0M657.5 715.5h5.0M657.5 738.5h5.0M74.5 753.5v5.0M143.5 753.5v5.0M211.5 753.5v5.0M280.5 753.5v5.0M349.5 753.5v5.0M417.5 753.5v5.0M486.5 753.5v5.0M554.5 753.5v5.0M623.5 753.5v5.0" stroke="#000" stroke-opacity="0.03" stroke-width="3" fill="none"/>
<path d="M74.5 53.0V754.0M657.5 53.0V754.0M74.0 53.5H658.0M74.0 753.5H658.0" stroke="#000" stroke-width="1.0" fill="none"/>
<path d="M74.5 53.5h-5.0M74.5 173.5h-5.0M74.5 259.5h-5.0M74.5 326.5h-5.0M74.5 380.5h-5.0M74.5 426.5h-5.0M74.5 465.5h-5.0M74.5 500.5h-5.0M74.5 532.5h-5.0M74.5 560.5h-5.0M74.5 586.5h-5.0M74.5 610.5h-5.0M74.5 632.5h-5.0M74.5 653.5h-5.0M74.5 672.5h-5.0M74.5 690.5h-5.0M74.5 707.5h-5.0M74.5 723.5h-5.0M74.5 738.5h-5.0M74.5 753.5h-5.0M657.5 53.5h5.0M657.5 173.5h5.0M657.5 259.5h5.0M657.5 326.5h5.0M657.5 380.5h5.0M657.5 465.5h5.0M657.5 532.5h5.0M657.5 632.5h5.0M657.5 690.5h5.0M657.5 715.5h5.0M657.5 738.5h5.0M74.5 753.5v5.0M143.5 753.5v5.0M211.5 753.5v5.0M280.5 753.5v5.0M349.5 753.5v5.0M417.5 753.5v5.0M486.5 753.5v5.0M554.5 753.5v5.0M623.5 753.5v5.0" stroke="#000" stroke-width="1.0" fill="none"/>
<path d="M756.10 75.50L736.54 91.06L727.86 85.18L736.54 91.06L756.10 75.50ZM756.10 173.44L733.93 184.98L726.54 177.55L733.93 184.98L756.10 173.44ZM756.10 259.08L731.79 264.91L726.42 255.92L731.79 264.91L756.10 259.08ZM756.10 325.51L732.39 317.58L732.60 307.10L732.39 317.58L756.10 325.51ZM756.10 379.78L737.67 362.90L742.12 353.41L737.67 362.90L739.97 365.01L742.20 360.26L739.97 365.01L756.10 379.78ZM756.10 465.43L735.75 450.91L739.01 440.95L735.75 450.91L756.10 465.43ZM756.10 531.86L734.78 518.79L737.34 508.63L734.78 518.79L756.10 531.86ZM756.10 632.02L731.22 629.63L735.88 630.08L734.81 624.95L735.88 630.08L756.10 632.02ZM756.10 689.82L736.81 705.73L740.43 702.74L736.04 699.88L740.43 702.74L756.10 689.82ZM756.10 715.00L743.41 736.54L745.79 732.50L740.69 731.31L745.79 732.50L756.10 715.00ZM756.10 734.46L754.94 734.64L753.90 735.17L753.07 736.00L752.53 737.05L752.35 738.21L752.53 739.36L753.07 740.41L753.90 741.24L754.94 741.77L756.10 741.96L757.26 741.77L758.30 741.24L759.13 740.41L759.67 739.36L759.85 738.21L759.67 737.05L759.13 736.00L758.30 735.17L757.26 734.64L756.10 734.46L756.10 734.46L757.26 734.64L758.30 735.17L759.13 736.00L759.67 737.05L759.85 738.21L759.67 739.36L759.13 740.41L758.30 741.24L757.26 741.77L756.10 741.96L754.94 741.77L753.90 741.24L753.07 740.41L752.53 739.36L752.35 738.21L752.53 737.05L753.07 736.00L753.90 735.17L754.94 734.64L756.10 734.46L756.10 734.46Z" fill="none" stroke="#000" stroke-width="1.8" stroke-linejoin="round" stroke-linecap="butt"/>
<text class="t" transform="translate(129.00 24.00) scale(1.0 1.08)" x="0 12.5 23 33.25 41.88 52.75 63 71.75 77 87.25 92.5 103.25 108.62 118.75 129.25 134.5 145.38 155.5 160.75 171.38 181.88 187.12 197.62 208.12 213.38 224 234.5 239.75 245.62 250.88 261.25 271.88 277.25 287.12 297.12 306.25 311.62 324.12 334.38 343.5 353.38 364.12 374.25 383 393.12 398.5 408.25 418.62 429 441.5 451.75 462.62">Прогноз T и Td на 18.09.25 - 09 час местного времени</text>
<text class="t" transform="translate(111.00 45.00) scale(1.0 1.08)" x="0 12.5 22.38 33.25 43.25 53 58.25 69.75 79.88 89.75 99.25 108.5 118.5 123.75 130.38 140.75 151.25 161.75 172.25 182.88 189.25 194.5 205.12 215.62 220.88 231.38 242 247.25 256.25 261.62 276.75 282 287.25 298 308.5 319 324.38 334.75 345.38 350.75 360.38 365.75 377.12 382.38 388.12 393.5 403.12 416.25 425.25 435.5 445.25 455.38 460.75 471.25 481.75 492.38 497.75">Пункт Якутск (24959) 62.02 с.ш. 129.72 в.д.; высота 101 м</text>
<text transform="translate(302.00 792.50) scale(1.0 1.01)" x="0 8.5 17 27.5 36.62 45.25 54.12 62.62 70.75 79 87.75 96.38 100.75 106.25 113.25 123">Температура (°C)</text>
<text transform="translate(20.50 461.00) rotate(-90) scale(1.0 1.01)" x="0 10.75 19.62 27.5 36.5 45 54.38 63.25 71.75 76.38 81.88 89 99.62 108">Давление (гПа)</text>
<text transform="translate(726.50 452.00) rotate(-90) scale(1.0 1.01)" x="0 9.88 20.62 28.25 36.5 44.75 53.38 57.75 63.25 70.75 79.75 90.25">Высота (гпм)</text>
<text transform="translate(38.25 58.50) scale(1.0 1.01)" x="0.75 8.62 17.38">100</text>
<text transform="translate(38.25 178.50) scale(1.0 1.01)" x="0.75 8.75 17.38">150</text>
<text transform="translate(38.00 264.50) scale(1.0 1.01)" x="0 8.75 17.5">200</text>
<text transform="translate(38.00 330.50) scale(1.0 1.01)" x="0 8.75 17.5">250</text>
<text transform="translate(37.00 385.50) scale(1.0 1.01)" x="1 8.75 17.5">300</text>
<text transform="translate(37.25 431.50) scale(1.0 1.01)" x="0.75 8.5 17.25">350</text>
<text transform="translate(38.00 470.50) scale(1.0 1.01)" x="1 8.75 17.5">400</text>
<text transform="translate(38.25 505.50) scale(1.0 1.01)" x="0.75 8.5 17.25">450</text>
<text transform="translate(37.00 537.50) scale(1.0 1.01)" x="1 8.75 17.5">500</text>
<text transform="translate(37.00 565.50) scale(1.0 1.01)" x="1 8.75 17.5">550</text>
<text transform="translate(38.00 591.50) scale(1.0 1.01)" x="0 8.75 17.62">600</text>
<text transform="translate(38.00 615.50) scale(1.0 1.01)" x="0 8.88 17.62">650</text>
<text transform="translate(38.00 637.50) scale(1.0 1.01)" x="1 8.75 17.5">700</text>
<text transform="translate(38.25 657.50) scale(1.0 1.01)" x="0.75 8.5 17.25">750</text>
<text transform="translate(38.00 677.50) scale(1.0 1.01)" x="0 8.75 17.62">800</text>
<text transform="translate(38.00 695.50) scale(1.0 1.01)" x="0 8.88 17.62">850</text>
<text transform="translate(38.25 712.50) scale(1.0 1.01)" x="0.75 8.62 17.38">900</text>
<text transform="translate(38.25 728.50) scale(1.0 1.01)" x="0.75 8.75 17.38">950</text>
<text transform="translate(29.00 743.50) scale(1.0 1.01)" x="1 8.75 17.62 26.38">1000</text>
<text transform="translate(29.00 758.50) scale(1.0 1.01)" x="1 8.75 17.62 26.38">1050</text>
<text transform="translate(666.00 58.50) scale(1.0 1.01)" x="1 8.88 17.75 26.5 35.25">16024</text>
<text transform="translate(666.25 178.50) scale(1.0 1.01)" x="0.75 8.75 17.62 26.12 35.12">13373</text>
<text transform="translate(666.25 264.50) scale(1.0 1.01)" x="0.75 8.75 17.5 26.25 35">11435</text>
<text transform="translate(666.00 330.50) scale(1.0 1.01)" x="1 8.75 17.62 26.38 35.25">10023</text>
<text transform="translate(667.00 385.50) scale(1.0 1.01)" x="0 8.88 17.75 26.5">8825</text>
<text transform="translate(667.00 470.50) scale(1.0 1.01)" x="0 8.88 17.75 26.5">6973</text>
<text transform="translate(666.00 537.50) scale(1.0 1.01)" x="1 8.75 17.5 26.25">5404</text>
<text transform="translate(667.00 637.50) scale(1.0 1.01)" x="0 8.75 17.75 26.5">2912</text>
<text transform="translate(666.00 695.50) scale(1.0 1.01)" x="1 8.88 17.5 26.38">1407</text>
<text transform="translate(666.25 720.50) scale(1.0 1.01)" x="0.75 8.5 17.25">743</text>
<text transform="translate(666.25 743.50) scale(1.0 1.01)" x="0.75 8.75 17.38">125</text>
<text transform="translate(59.00 773.50) scale(1.0 1.01)" x="1.25 11.62 20.38">−40</text>
<text transform="translate(128.00 773.50) scale(1.0 1.01)" x="1.25 11.75 20.38">−30</text>
<text transform="translate(196.00 773.50) scale(1.0 1.01)" x="1.25 11.75 20.38">−20</text>
<text transform="translate(265.00 773.50) scale(1.0 1.01)" x="1.25 11.75 20.5">−10</text>
<text transform="translate(345.00 773.50) scale(1.0 1.01)" x="0">0</text>
<text transform="translate(408.25 773.50) scale(1.0 1.01)" x="0.75 8.62">10</text>
<text transform="translate(477.00 773.50) scale(1.0 1.01)" x="0 8.75">20</text>
<text transform="translate(545.25 773.50) scale(1.0 1.01)" x="0.75 8.5">30</text>
<text transform="translate(614.25 773.50) scale(1.0 1.01)" x="0.75 8.5">40</text>
<text class="g" transform="translate(797.00 76.50)" x="0 8.75 17.5 26.38 33.38 37.75 43.25 52.25 61 65.38 75.88 80.38 88.12">231° (11 м/с)</text>
<text class="g" transform="translate(797.00 173.50)" x="0 8.75 17.5 26.25 33.25 37.75 43.25 52 60.75 65.25 75.75 80.25 87.75">242° (12 м/с)</text>
<text class="g" transform="translate(797.00 259.50)" x="0 8.75 17.5 26.38 33.38 37.75 43.25 52.12 56.5 67 71.62 79.25">256° (9 м/с)</text>
<text class="g" transform="translate(797.00 325.50)" x="0 8.75 17.75 26.5 33.5 37.88 43.38 52.25 61.12 65.5 76 80.62 88.25">288° (11 м/с)</text>
<text class="g" transform="translate(797.00 380.50)" x="0 8.75 17.62 26.38 33.38 37.75 43.25 52.25 61 65.38 75.88 80.38 88.12">312° (16 м/с)</text>
<text class="g" transform="translate(797.00 465.50)" x="0 8.75 17.5 26.25 33.25 37.75 43.25 52 60.75 65.25 75.75 80.25 87.75">305° (12 м/с)</text>
<text class="g" transform="translate(797.00 532.50)" x="0 8.75 17.5 26.38 33.38 37.75 43.25 52.12 60.88 65.25 75.75 80.38 87.88">301° (12 м/с)</text>
<text class="g" transform="translate(797.00 632.50)" x="0 8.75 17.5 26.25 33.25 37.75 43.12 51.88 56.25 66.75 71.38 79">275° (7 м/с)</text>
<text class="g" transform="translate(797.00 690.50)" x="0 8.75 17.5 26.25 33.25 37.75 43.25 52 56.38 66.88 71.38 79.12">230° (6 м/с)</text>
<text class="g" transform="translate(797.00 715.50)" x="0 8.75 17.62 26.38 33.38 37.75 43.25 52 56.38 66.88 71.38 79.12">210° (5 м/с)</text>
<text class="g" transform="translate(797.00 738.50)" x="0 8.75 17.75 26.5 33.5 37.88 43.38 52.25 56.75 67.25 71.75 79.25">162° (1 м/с)</text>
</svg></body></html>
